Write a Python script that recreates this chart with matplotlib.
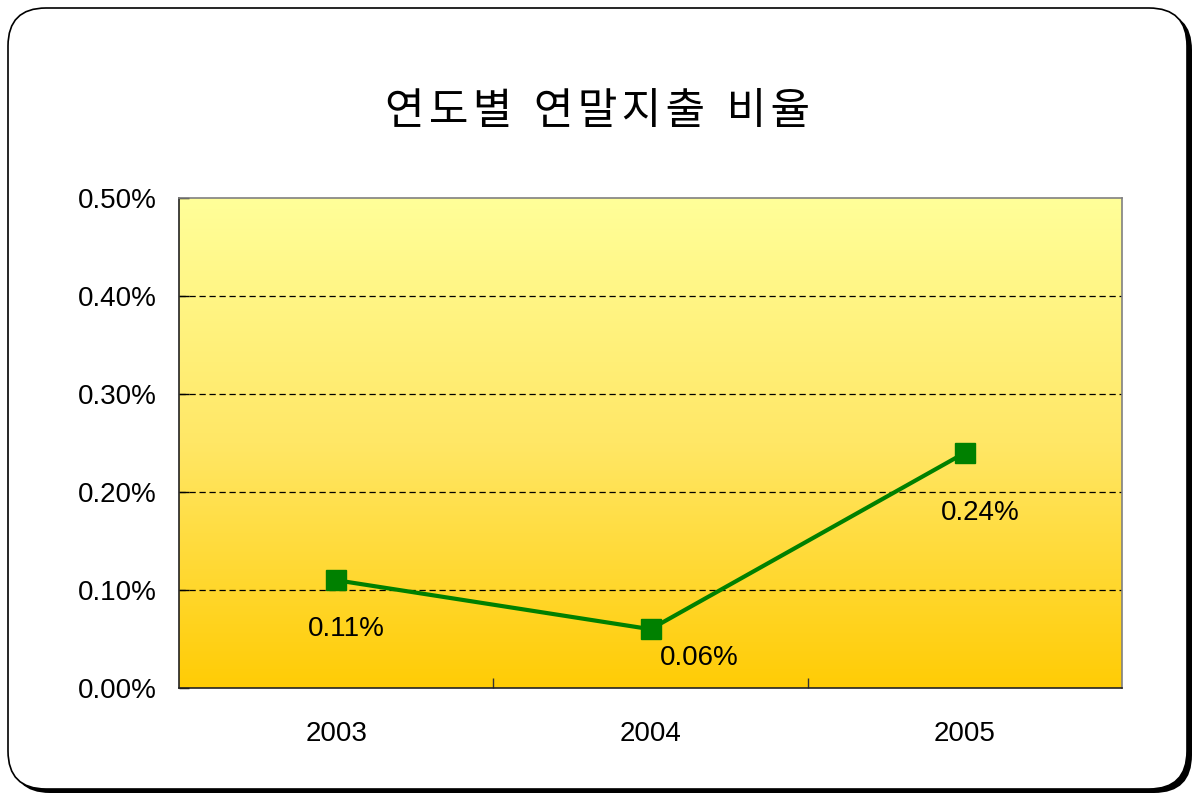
import matplotlib
matplotlib.use("Agg")
import matplotlib.pyplot as plt
import numpy as np
from matplotlib.colors import LinearSegmentedColormap
from matplotlib.patches import FancyBboxPatch
from matplotlib.ticker import FixedLocator, FuncFormatter

plt.rcParams["font.family"] = ["Liberation Sans", "DejaVu Sans"]

# data
years = ["2003", "2004", "2005"]
ratios = [0.0011, 0.0006, 0.0024]
labels = ["0.11%", "0.06%", "0.24%"]
y_ticks = [0.0, 0.001, 0.002, 0.003, 0.004, 0.005]
title = "연도별 연말지출 비율"

# hand placement of the data labels, in points from each marker
label_offsets = [(7, -35), (35, -21), (11, -43)]

W, H = 1195, 796
fig = plt.figure(figsize=(W / 100, H / 100), dpi=100)

# rounded frame with dark drop shadow, drawn in pixel coords
bg = fig.add_axes([0, 0, 1, 1], zorder=-10)
bg.set_xlim(0, W)
bg.set_ylim(H, 0)
bg.axis("off")
shadow = FancyBboxPatch((12, 12), 1180, 781, boxstyle="round,pad=0,rounding_size=38",
                        facecolor="black", edgecolor="none")
frame = FancyBboxPatch((8, 8), 1179, 781, boxstyle="round,pad=0,rounding_size=38",
                       facecolor="white", edgecolor="black", linewidth=1.2)
bg.add_patch(shadow)
bg.add_patch(frame)

# the original title is letter-spaced: hair space inside words, wider gap between them
spaced = "\u2002".join("\u200a".join(word) for word in title.split(" "))
fig.text(0.5, 1 - 112 / H, spaced, ha="center", va="center", fontsize=31,
         family=["Noto Sans CJK KR", "DejaVu Sans"])

ax = fig.add_axes([179 / W, 1 - 688 / H, (1122 - 179) / W, (688 - 198) / H])
x = np.arange(len(years))
ax.set_xlim(-0.5, len(years) - 0.5)
ax.set_ylim(y_ticks[0], y_ticks[-1])

# vertical yellow gradient for the plot area
grad = LinearSegmentedColormap.from_list("gold", ["#FFCC05", "#FFE766", "#FFFF99"])
ax.imshow(np.linspace(0, 1, 256).reshape(-1, 1), cmap=grad, origin="lower", aspect="auto",
          extent=(-0.5, len(years) - 0.5, y_ticks[0], y_ticks[-1]), zorder=0)

for yv in y_ticks[1:-1]:
    ax.axhline(yv, color="black", linewidth=0.9, dashes=(5, 3), zorder=1)

ax.plot(x, ratios, color="#008000", linewidth=3, marker="s", markersize=15,
        markeredgecolor="#008000", zorder=3)
for xi, yi, txt, off in zip(x, ratios, labels, label_offsets):
    ax.annotate(txt, (xi, yi), textcoords="offset points", xytext=off,
                ha="center", va="center", fontsize=20, color="black")

ax.yaxis.set_major_locator(FixedLocator(y_ticks))
ax.yaxis.set_major_formatter(FuncFormatter(lambda v, _: f"{v * 100:.2f}%"))
ax.set_xticks(x)
ax.set_xticklabels(years)
ax.xaxis.set_minor_locator(FixedLocator([0.5, 1.5]))
ax.tick_params(axis="x", which="major", length=0, pad=24, labelsize=20)
ax.tick_params(axis="x", which="minor", direction="in", length=7, width=1, color="#333333")
ax.tick_params(axis="y", direction="in", length=7, width=1, pad=16, labelsize=20)

for side in ("left", "bottom"):
    ax.spines[side].set_color("#222222")
    ax.spines[side].set_linewidth(1.2)
for side in ("top", "right"):
    ax.spines[side].set_color("#808080")
    ax.spines[side].set_linewidth(1.2)

fig.savefig("out.png", dpi=100)
